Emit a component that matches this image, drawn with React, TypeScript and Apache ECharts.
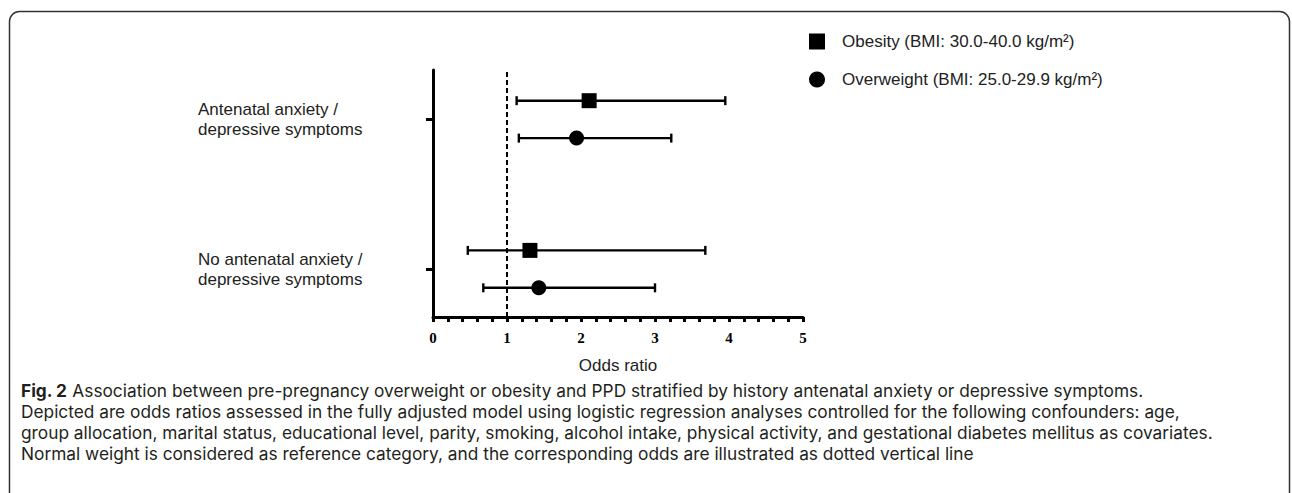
import React, { useEffect, useRef } from "react";
import * as echarts from "echarts";

// ---- data ----
const groups = [
  "Antenatal anxiety /\ndepressive symptoms",
  "No antenatal anxiety /\ndepressive symptoms",
];
const obesityName = "Obesity (BMI: 30.0-40.0 kg/m²)";
const overweightName = "Overweight (BMI: 25.0-29.9 kg/m²)";
const obesityOR = [2.11, 1.31];
const obesityLower = [1.13, 0.47];
const obesityUpper = [3.95, 3.68];
const overweightOR = [1.94, 1.43];
const overweightLower = [1.16, 0.68];
const overweightUpper = [3.22, 3.0];
const xTicks = [0, 1, 2, 3, 4, 5];
const referenceOR = 1;
const xAxisName = "Odds ratio";
const captionBold = "Fig. 2";
const captionLines = [
  " Association between pre-pregnancy overweight or obesity and PPD stratified by history antenatal anxiety or depressive symptoms.",
  "Depicted are odds ratios assessed in the fully adjusted model using logistic regression analyses controlled for the following confounders: age,",
  "group allocation, marital status, educational level, parity, smoking, alcohol intake, physical activity, and gestational diabetes mellitus as covariates.",
  "Normal weight is considered as reference category, and the corresponding odds are illustrated as dotted vertical line",
];

// layout helpers
const OFFSET = 0.125;
const groupPos = (i: number) => groups.length - 1 - i;

export default function App() {
  const ref = useRef<HTMLDivElement>(null);
  useEffect(() => {
    if (!ref.current) return;
    const chart = echarts.init(ref.current, null, { renderer: "svg" });

    const obData = groups.map((_, i) => [obesityOR[i], groupPos(i) + OFFSET]);
    const owData = groups.map((_, i) => [overweightOR[i], groupPos(i) - OFFSET]);
    const obErr = groups.map((_, i) => [obesityLower[i], obesityUpper[i], groupPos(i) + OFFSET]);
    const owErr = groups.map((_, i) => [overweightLower[i], overweightUpper[i], groupPos(i) - OFFSET]);

    const renderErr = (params: any, api: any) => {
      const lo = api.coord([api.value(0), api.value(2)]);
      const hi = api.coord([api.value(1), api.value(2)]);
      const h = 4.5;
      const st = { stroke: "#000", lineWidth: 2.4 };
      return {
        type: "group",
        children: [
          { type: "line", shape: { x1: lo[0], y1: lo[1], x2: hi[0], y2: hi[1] }, style: st },
          { type: "line", shape: { x1: lo[0], y1: lo[1] - h, x2: lo[0], y2: lo[1] + h }, style: st },
          { type: "line", shape: { x1: hi[0], y1: hi[1] - h, x2: hi[0], y2: hi[1] + h }, style: st },
        ],
      };
    };

    const sans = "'Liberation Sans', Arial, sans-serif";
    const capFont = "Inter, 'Open Sans', sans-serif";
    const capSize = 17.3;
    const capLH = 21;

    const captionText =
      "{b|" + captionBold + "}{r|" + captionLines[0] + "}\n" +
      captionLines.slice(1).map((t) => "{r|" + t + "}").join("\n");

    chart.setOption({
      animation: false,
      backgroundColor: "#fff",
      grid: { left: 433, right: 489, top: 70, bottom: 176, containLabel: false },
      legend: {
        orient: "vertical",
        left: 804,
        top: 28,
        itemWidth: 16,
        itemHeight: 16,
        itemGap: 21,
        data: [
          { name: obesityName, icon: "rect" },
          { name: overweightName, icon: "circle" },
        ],
        itemStyle: { color: "#000" },
        textStyle: { fontFamily: sans, fontSize: 17, color: "#222", padding: [0, 0, 0, 12] },
      },
      xAxis: {
        type: "value",
        min: xTicks[0],
        max: xTicks[xTicks.length - 1],
        interval: 1,
        name: xAxisName,
        nameLocation: "middle",
        nameGap: 40,
        nameTextStyle: { fontFamily: sans, fontSize: 17, color: "#222" },
        axisLine: { show: true, onZero: false, lineStyle: { color: "#000", width: 3 } },
        axisTick: { show: true, length: 5, lineStyle: { color: "#000", width: 3 } },
        minorTick: { show: true, splitNumber: 5, length: 5, lineStyle: { color: "#000", width: 3 } },
        splitLine: { show: false },
        minorSplitLine: { show: false },
        axisLabel: {
          margin: 13,
          fontFamily: "'Liberation Serif', 'Times New Roman', serif",
          fontWeight: "bold",
          fontSize: 15,
          color: "#000",
        },
      },
      yAxis: {
        type: "value",
        min: -0.32,
        max: 1.33,
        axisLine: { show: true, onZero: false, lineStyle: { color: "#000", width: 3 } },
        splitLine: { show: false },
        axisTick: { show: true, customValues: [0, 1], length: 7, lineStyle: { color: "#000", width: 3 } },
        axisLabel: {
          show: true,
          customValues: [0, 1],
          align: "left",
          margin: 235,
          fontFamily: sans,
          fontSize: 17,
          lineHeight: 20,
          color: "#222",
          formatter: (v: number) => groups[groups.length - 1 - Math.round(v)],
        },
      },
      series: [
        {
          type: "custom",
          name: "obErr",
          renderItem: renderErr,
          data: obErr,
          encode: { x: [0, 1], y: 2 },
          z: 2,
          silent: true,
        },
        {
          type: "custom",
          name: "owErr",
          renderItem: renderErr,
          data: owErr,
          encode: { x: [0, 1], y: 2 },
          z: 2,
          silent: true,
        },
        {
          type: "scatter",
          name: obesityName,
          symbol: "rect",
          symbolSize: 15,
          itemStyle: { color: "#000", opacity: 1 },
          data: obData,
          z: 5,
          markLine: {
            silent: true,
            symbol: ["none", "none"],
            label: { show: false },
            lineStyle: { color: "#000", width: 2, type: [5, 3] },
            data: [{ xAxis: referenceOR }],
          },
        },
        {
          type: "scatter",
          name: overweightName,
          symbol: "circle",
          symbolSize: 15,
          itemStyle: { color: "#000", opacity: 1 },
          data: owData,
          z: 5,
        },
      ],
      graphic: [
        {
          type: "rect",
          shape: { x: 9.5, y: 11.5, width: 1280, height: 700, r: 10 },
          style: { fill: "none", stroke: "#333", lineWidth: 1.5 },
          silent: true,
        },
        {
          type: "text",
          left: 21,
          top: 382,
          style: {
            text: captionText,
            rich: {
              b: { fontFamily: capFont, fontWeight: "bold", fontSize: capSize, lineHeight: capLH, fill: "#231f20" },
              r: { fontFamily: capFont, fontSize: capSize, lineHeight: capLH, fill: "#231f20" },
            },
          },
        },
      ],
    });
    return () => chart.dispose();
  }, []);
  return (
    <div
      ref={ref}
      style={{ position: "fixed", left: 0, top: 0, width: 1292, height: 493 }}
    />
  );
}
